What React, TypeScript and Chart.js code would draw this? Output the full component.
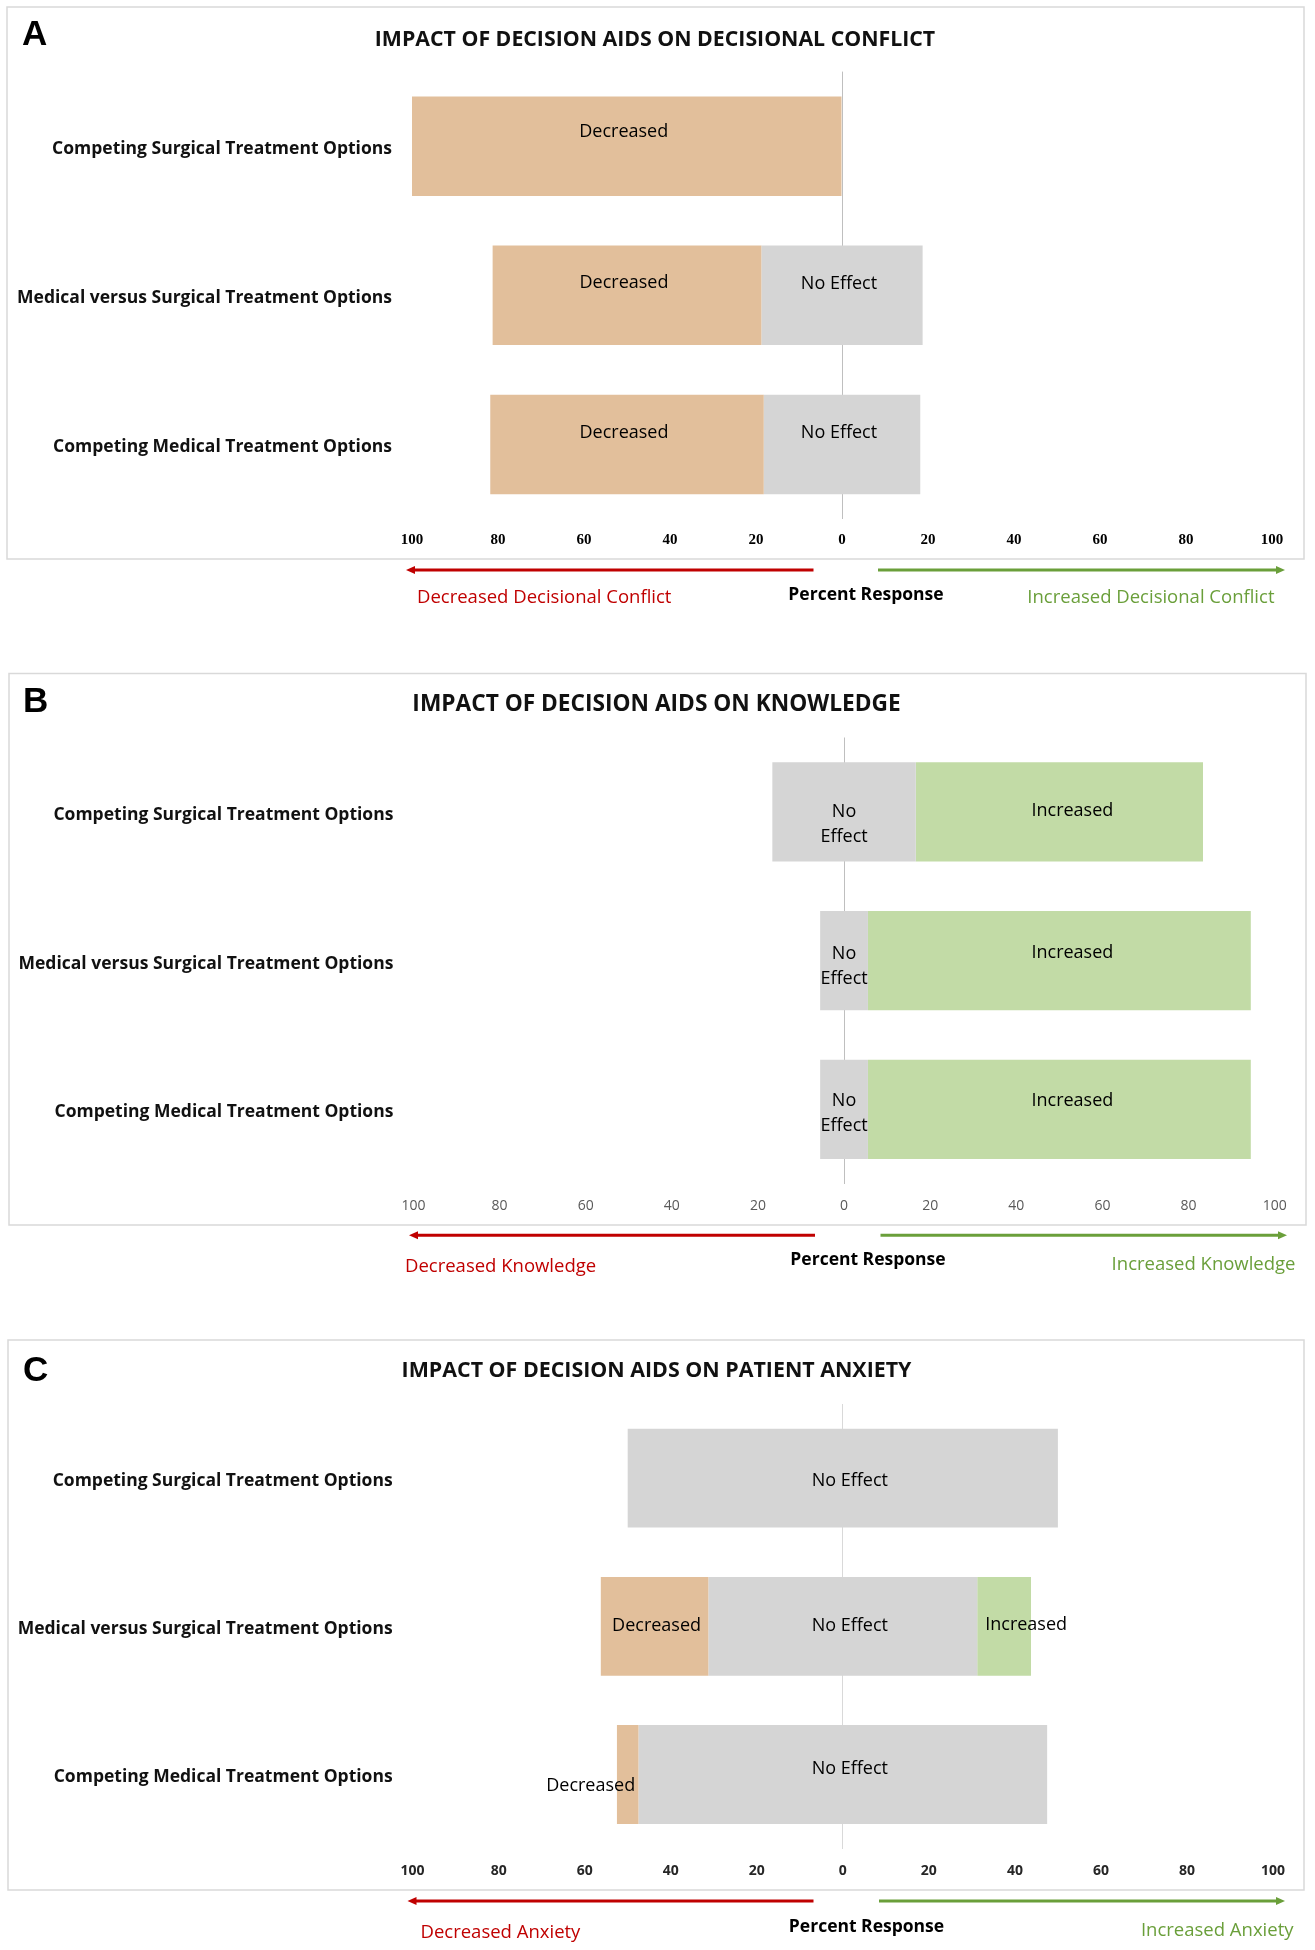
import React, { useEffect, useRef } from "react";
import { Chart, registerables } from "chart.js";

Chart.register(...registerables);

// ---------- data ----------
const categories = [
  "Competing Surgical Treatment Options",
  "Medical versus Surgical Treatment Options",
  "Competing Medical Treatment Options",
];
const segmentLabels = ["Decreased", "No Effect", "Increased"];
const axisMin = -100;
const axisMax = 100;
const axisStep = 20;

// Panel A: decisional conflict (percent of studies)
const conflictDecreased = [100, 62.5, 63.6];
const conflictNoEffect = [0, 37.5, 36.4];
const conflictIncreased = [0, 0, 0];

// Panel B: knowledge
const knowledgeDecreased = [0, 0, 0];
const knowledgeNoEffect = [33.3, 11.1, 11.1];
const knowledgeIncreased = [66.7, 88.9, 88.9];

// Panel C: patient anxiety
const anxietyDecreased = [0, 25, 5];
const anxietyNoEffect = [100, 62.5, 95];
const anxietyIncreased = [0, 12.5, 0];

const panelLetters = ["A", "B", "C"];
const panelTitles = [
  "IMPACT OF DECISION AIDS ON DECISIONAL CONFLICT",
  "IMPACT OF DECISION AIDS ON KNOWLEDGE",
  "IMPACT OF DECISION AIDS ON PATIENT ANXIETY",
];
const leftCaptions = ["Decreased Decisional Conflict", "Decreased Knowledge", "Decreased Anxiety"];
const rightCaptions = ["Increased Decisional Conflict", "Increased Knowledge", "Increased Anxiety"];
const centerCaption = "Percent Response";

// ---------- styles / layout ----------
const COLORS = {
  dec: "#e2bf9b",
  ne: "#d5d5d5",
  inc: "#c2dba6",
  red: "#c00000",
  green: "#6a9f3a",
  box: "#d9d9d9",
};
const SANS = "'Open Sans', 'Noto Sans', sans-serif";
const W = 1315;
const X_AXIS_H = 40;

type PanelCfg = {
  idx: number;
  top: number;
  height: number;
  dec: number[];
  ne: number[];
  inc: number[];
  area: { left: number; right: number; top: number; bottom: number };
  tickPad: number;
  tickFont: any;
  tickColor: string;
  zeroColor: string;
  catOffset: number;
  box: [number, number, number, number];
  letterXY: [number, number];
  titleXY: [number, number];
  titleSize: number;
  arrowY: number;
  redX: [number, number];
  greenX: [number, number];
  leftCap: [number, number];
  centerCap: [number, number];
  rightCap: [number, number];
  wrapNoEffect: boolean;
  dy: number;
  dxByDataset: [number, number, number];
  offsets: Record<string, [number, number]>;
};

const PANELS: PanelCfg[] = [
  {
    idx: 0,
    top: 0,
    height: 620,
    dec: conflictDecreased,
    ne: conflictNoEffect,
    inc: conflictIncreased,
    area: { left: 412, right: 1272, top: 71.6, bottom: 519 },
    tickPad: 12,
    tickFont: { family: "'Liberation Serif', serif", size: 15, weight: "bold" },
    tickColor: "#000",
    zeroColor: "#bfbfbf",
    catOffset: 2.5,
    box: [7, 7, 1297, 552],
    letterXY: [22, 35.5],
    titleXY: [655, 40],
    titleSize: 21.3,
    arrowY: 570,
    redX: [406, 813.5],
    greenX: [878, 1285],
    leftCap: [417, 598],
    centerCap: [866, 595.5],
    rightCap: [1274.5, 598],
    wrapNoEffect: false,
    dy: -11.5,
    dxByDataset: [-3, -3, 0],
    offsets: { "0:0": [-3, -14], "1:0": [-3, -12.5] },
  },
  {
    idx: 1,
    top: 660,
    height: 620,
    dec: knowledgeDecreased,
    ne: knowledgeNoEffect,
    inc: knowledgeIncreased,
    area: { left: 413.4, right: 1274.7, top: 77.5, bottom: 523.7 },
    tickPad: 13.6,
    tickFont: { family: SANS, size: 14, weight: "normal" },
    tickColor: "#595959",
    zeroColor: "#bfbfbf",
    catOffset: 3,
    box: [9, 13.5, 1297, 551.5],
    letterXY: [23, 42.5],
    titleXY: [656.5, 45],
    titleSize: 22.7,
    arrowY: 575.3,
    redX: [409, 815],
    greenX: [880.5, 1287],
    leftCap: [405, 606.5],
    centerCap: [868, 600],
    rightCap: [1295.5, 605],
    wrapNoEffect: true,
    dy: -5,
    dxByDataset: [0, 0, 13],
    offsets: {
      "0:1": [0, 12.5],
      "1:1": [0, 6],
      "2:1": [0, 4],
      "0:2": [13, -0.5],
      "1:2": [13, -8],
      "2:2": [13, -8.5],
    },
  },
  {
    idx: 2,
    top: 1325,
    height: 625,
    dec: anxietyDecreased,
    ne: anxietyNoEffect,
    inc: anxietyIncreased,
    area: { left: 412.6, right: 1273, top: 79, bottom: 523.6 },
    tickPad: 14.5,
    tickFont: { family: SANS, size: 14, weight: "bold" },
    tickColor: "#262626",
    zeroColor: "#d9d9d9",
    catOffset: 2.5,
    box: [8, 15, 1296, 550],
    letterXY: [23, 46],
    titleXY: [656.5, 45.8],
    titleSize: 21.4,
    arrowY: 576,
    redX: [407.5, 813.5],
    greenX: [879, 1285],
    leftCap: [420.5, 607.5],
    centerCap: [866.5, 602],
    rightCap: [1293.5, 605.5],
    wrapNoEffect: false,
    dy: 0,
    dxByDataset: [2, 7, 0],
    offsets: {
      "0:1": [7, 3],
      "1:0": [2, -0.5],
      "1:1": [7, -0.5],
      "1:2": [22, -1.5],
      "2:0": [-37, 11],
      "2:1": [7, -6],
    },
  },
];

function drawArrow(ctx: CanvasRenderingContext2D, x1: number, x2: number, y: number, color: string, dir: "left" | "right") {
  const head = 9;
  const half = 4;
  ctx.save();
  ctx.strokeStyle = color;
  ctx.fillStyle = color;
  ctx.lineWidth = 3;
  ctx.beginPath();
  if (dir === "left") {
    ctx.moveTo(x1 + head - 1, y);
    ctx.lineTo(x2, y);
  } else {
    ctx.moveTo(x1, y);
    ctx.lineTo(x2 - head + 1, y);
  }
  ctx.stroke();
  ctx.beginPath();
  if (dir === "left") {
    ctx.moveTo(x1, y);
    ctx.lineTo(x1 + head, y - half);
    ctx.lineTo(x1 + head, y + half);
  } else {
    ctx.moveTo(x2, y);
    ctx.lineTo(x2 - head, y - half);
    ctx.lineTo(x2 - head, y + half);
  }
  ctx.closePath();
  ctx.fill();
  ctx.restore();
}

function makeDecorPlugin(p: PanelCfg) {
  return {
    id: "decor" + p.idx,
    beforeDraw(chart: any) {
      const ctx: CanvasRenderingContext2D = chart.ctx;
      ctx.save();
      ctx.fillStyle = "#ffffff";
      ctx.fillRect(0, 0, chart.width, chart.height);
      ctx.strokeStyle = COLORS.box;
      ctx.lineWidth = 1.5;
      const [bx, by, bw, bh] = p.box;
      ctx.strokeRect(bx, by, bw, bh);
      ctx.fillStyle = "#000";
      ctx.textBaseline = "middle";
      ctx.textAlign = "left";
      ctx.font = "bold 35px 'Liberation Sans', Arial, sans-serif";
      ctx.fillText(panelLetters[p.idx], p.letterXY[0], p.letterXY[1]);
      ctx.textAlign = "center";
      ctx.fillStyle = "#111";
      ctx.font = `bold ${p.titleSize}px ${SANS}`;
      ctx.fillText(panelTitles[p.idx], p.titleXY[0], p.titleXY[1]);
      ctx.restore();
    },
    afterDatasetsDraw(chart: any) {
      const ctx: CanvasRenderingContext2D = chart.ctx;
      ctx.save();
      ctx.font = `18px ${SANS}`;
      ctx.fillStyle = "#000";
      ctx.textAlign = "center";
      ctx.textBaseline = "middle";
      [p.dec, p.ne, p.inc].forEach((vals, d) => {
        const meta = chart.getDatasetMeta(d);
        meta.data.forEach((el: any, i: number) => {
          if (!(vals[i] > 0)) return;
          const props = el.getProps(["x", "base", "y"], true);
          const off = p.offsets[`${i}:${d}`] || [p.dxByDataset[d], p.dy];
          const cx = (props.x + props.base) / 2 + off[0];
          const cy = props.y + off[1];
          if (d === 1 && p.wrapNoEffect) {
            const parts = segmentLabels[1].split(" ");
            ctx.fillText(parts[0], cx, cy - 12.5);
            ctx.fillText(parts[1], cx, cy + 12.5);
          } else {
            ctx.fillText(segmentLabels[d], cx, cy);
          }
        });
      });
      ctx.restore();
    },
    afterDraw(chart: any) {
      const ctx: CanvasRenderingContext2D = chart.ctx;
      drawArrow(ctx, p.redX[0], p.redX[1], p.arrowY, COLORS.red, "left");
      drawArrow(ctx, p.greenX[0], p.greenX[1], p.arrowY, COLORS.green, "right");
      ctx.save();
      ctx.textBaseline = "middle";
      ctx.font = `18.5px ${SANS}`;
      ctx.fillStyle = COLORS.red;
      ctx.textAlign = "left";
      ctx.fillText(leftCaptions[p.idx], p.leftCap[0], p.leftCap[1]);
      ctx.fillStyle = COLORS.green;
      ctx.textAlign = "right";
      ctx.fillText(rightCaptions[p.idx], p.rightCap[0], p.rightCap[1]);
      ctx.fillStyle = "#000";
      ctx.textAlign = "center";
      ctx.font = `bold 17.5px ${SANS}`;
      ctx.fillText(centerCaption, p.centerCap[0], p.centerCap[1]);
      ctx.restore();
    },
  };
}

function Panel({ p }: { p: PanelCfg }) {
  const ref = useRef<HTMLCanvasElement>(null);
  useEffect(() => {
    const canvas = ref.current;
    if (!canvas) return;
    const chart = new Chart(canvas, {
      type: "bar",
      data: {
        labels: categories,
        datasets: [
          {
            label: segmentLabels[0],
            data: categories.map((_, i) => [-p.ne[i] / 2 - p.dec[i], -p.ne[i] / 2]) as any,
            backgroundColor: COLORS.dec,
          },
          {
            label: segmentLabels[1],
            data: categories.map((_, i) => [-p.ne[i] / 2, p.ne[i] / 2]) as any,
            backgroundColor: COLORS.ne,
          },
          {
            label: segmentLabels[2],
            data: categories.map((_, i) => [p.ne[i] / 2, p.ne[i] / 2 + p.inc[i]]) as any,
            backgroundColor: COLORS.inc,
          },
        ].map((ds) => ({
          ...ds,
          grouped: false,
          barPercentage: 0.667,
          categoryPercentage: 1,
          borderWidth: 0,
        })),
      },
      options: {
        animation: false,
        responsive: false,
        indexAxis: "y",
        layout: {
          padding: {
            left: 0,
            right: W - p.area.right,
            top: p.area.top,
            bottom: p.height - p.area.bottom - X_AXIS_H,
          },
        },
        plugins: {
          legend: { display: false },
          tooltip: { enabled: false },
        },
        scales: {
          x: {
            type: "linear",
            min: axisMin,
            max: axisMax,
            z: 1,
            ticks: {
              stepSize: axisStep,
              callback: (v: any) => String(Math.abs(Number(v))),
              font: p.tickFont,
              color: p.tickColor,
              padding: p.tickPad,
              maxRotation: 0,
              autoSkip: false,
            },
            grid: {
              drawTicks: false,
              lineWidth: 1,
              color: (c: any) => (c.tick && c.tick.value === 0 ? p.zeroColor : "rgba(0,0,0,0)"),
            },
            border: { display: false },
            afterFit: (s: any) => {
              s.height = X_AXIS_H;
            },
          },
          y: {
            type: "category",
            offset: true,
            grid: { display: false, drawTicks: false },
            border: { display: false },
            ticks: {
              font: { family: SANS, size: 17.5, weight: "bold" },
              color: "#111",
              padding: 20,
              labelOffset: p.catOffset,
            },
            afterFit: (s: any) => {
              s.width = p.area.left;
            },
          },
        },
      } as any,
      plugins: [makeDecorPlugin(p)],
    });
    return () => chart.destroy();
  }, [p]);
  return (
    <canvas
      ref={ref}
      width={W}
      height={p.height}
      style={{ position: "absolute", left: 0, top: p.top, width: W, height: p.height, display: "block" }}
    />
  );
}

export default function App() {
  return (
    <div style={{ position: "absolute", left: 0, top: 0, width: W, height: 1950, background: "#ffffff" }}>
      {PANELS.map((p) => (
        <Panel key={p.idx} p={p} />
      ))}
    </div>
  );
}
